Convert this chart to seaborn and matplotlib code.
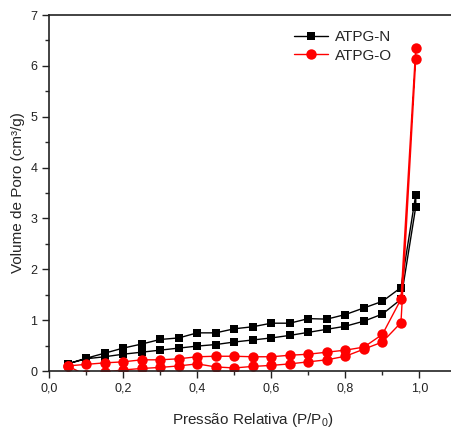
import numpy as np
import pandas as pd
import matplotlib
matplotlib.use("Agg")
import matplotlib.pyplot as plt
import seaborn as sns
from matplotlib.ticker import MultipleLocator, FuncFormatter
from matplotlib.lines import Line2D

# ---- data ----
p_ads = [0.05, 0.10, 0.15, 0.20, 0.25, 0.30, 0.35, 0.40, 0.45, 0.50,
         0.55, 0.60, 0.65, 0.70, 0.75, 0.80, 0.85, 0.90, 0.95, 0.99]
p_des = [0.99, 0.95, 0.90, 0.85, 0.80, 0.75, 0.70, 0.65, 0.60, 0.55,
         0.50, 0.45, 0.40, 0.35, 0.30, 0.25, 0.20, 0.15, 0.10, 0.05]

n_ads = [0.14, 0.24, 0.28, 0.33, 0.37, 0.41, 0.45, 0.49, 0.52, 0.57,
         0.61, 0.65, 0.70, 0.76, 0.82, 0.88, 0.98, 1.12, 1.41, 3.23]
n_des = [3.47, 1.64, 1.37, 1.24, 1.11, 1.02, 1.03, 0.94, 0.94, 0.87,
         0.83, 0.75, 0.75, 0.65, 0.62, 0.53, 0.45, 0.35, 0.25, 0.14]

o_ads = [0.10, -0.08, -0.02, 0.02, 0.05, 0.07, 0.10, 0.14, 0.08, 0.06,
         0.09, 0.11, 0.14, 0.18, 0.22, 0.29, 0.43, 0.57, 0.95, 6.14]
o_des = [6.36, 1.41, 0.72, 0.47, 0.41, 0.37, 0.33, 0.31, 0.28, 0.28,
         0.29, 0.29, 0.28, 0.24, 0.22, 0.22, 0.18, 0.16, 0.13, 0.10]

samples = ["ATPG-N", "ATPG-O"]

rows = []
for name, ads, des in [("ATPG-N", n_ads, n_des), ("ATPG-O", o_ads, o_des)]:
    k = 0
    for p, v in zip(p_ads, ads):
        rows.append((name, k, p, v)); k += 1
    for p, v in zip(p_des, des):
        rows.append((name, k, p, v)); k += 1
df = pd.DataFrame(rows, columns=["sample", "order", "P", "V"])

# ---- style ----
sns.set_theme(style="ticks")
plt.rcParams["font.family"] = ["Liberation Sans", "DejaVu Sans"]
plt.rcParams["xtick.direction"] = "out"
plt.rcParams["ytick.direction"] = "out"

fig = plt.figure(figsize=(4.52, 4.28), dpi=100)
ax = fig.add_axes([49/452, 1-371/428, 1-49/452 + 0.01, (371-15)/428])

colors = {"ATPG-N": "black", "ATPG-O": "#ff0000"}
markers = {"ATPG-N": "s", "ATPG-O": "o"}
sizes = {"ATPG-N": 6.0, "ATPG-O": 7.5}
for s in samples:
    sub = df[df["sample"] == s].sort_values("order")
    sns.lineplot(data=sub, x="P", y="V", sort=False, estimator=None,
                 color=colors[s], marker=markers[s], markersize=sizes[s],
                 markeredgewidth=0, linewidth=1.0, ax=ax, legend=False)

ax.set_xlim(0, 1.1)
ax.set_ylim(0, 7)
ax.xaxis.set_major_locator(MultipleLocator(0.2))
ax.xaxis.set_minor_locator(MultipleLocator(0.1))
ax.yaxis.set_major_locator(MultipleLocator(1))
ax.yaxis.set_minor_locator(MultipleLocator(0.5))
ax.xaxis.set_major_formatter(FuncFormatter(lambda v, pos: f"{v:.1f}".replace(".", ",")))
ax.yaxis.set_major_formatter(FuncFormatter(lambda v, pos: f"{v:.0f}"))
ax.tick_params(which="major", length=5, width=1, labelsize=9, colors="#222222")
ax.tick_params(which="minor", length=3, width=1)
for sp in ax.spines.values():
    sp.set_linewidth(1.2)
    sp.set_color("#222222")

ax.set_xlabel("Pressão Relativa (P/P$_{\\mathregular{0}}$)", fontsize=11, labelpad=12)
ax.set_ylabel("Volume de Poro (cm³/g)", fontsize=11, labelpad=4)

handles = [
    Line2D([], [], color="black", marker="s", markersize=6.0, markeredgewidth=0, linewidth=1.0),
    Line2D([], [], color="#ff0000", marker="o", markersize=7.5, markeredgewidth=0, linewidth=1.0),
]
fig.legend(handles, samples, loc="upper left",
           bbox_to_anchor=(288/452, 1-24/428), frameon=False,
           fontsize=11, handlelength=2.2, handletextpad=0.5,
           borderaxespad=0, labelspacing=0.3)

fig.savefig("out.png", dpi=100)
